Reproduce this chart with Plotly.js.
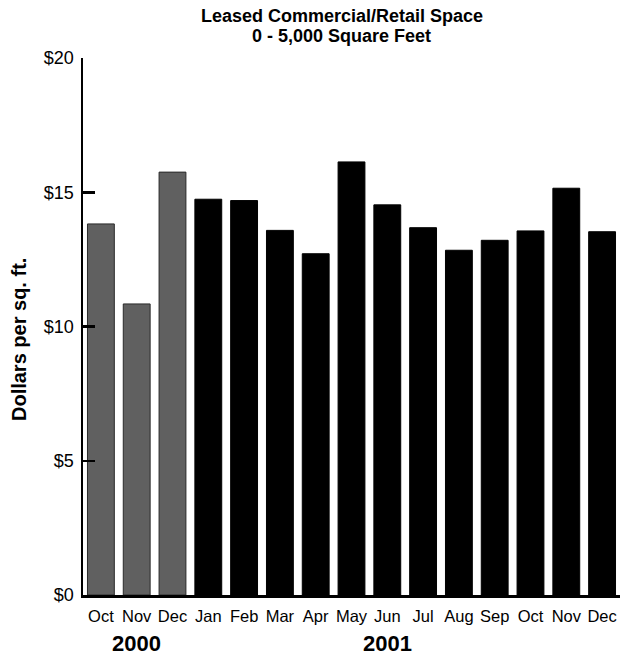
<!DOCTYPE html>
<html>
<head>
<meta charset="utf-8">
<script src="https://cdn.plot.ly/plotly-3.0.1.min.js"></script>
<style>
  html, body { margin: 0; padding: 0; background: #fff; }
  #chart { width: 620px; height: 658px; }
</style>
</head>
<body>
<div id="chart"></div>
<script>
// ---- data ----
const months = ["Oct", "Nov", "Dec", "Jan", "Feb", "Mar", "Apr", "May", "Jun", "Jul", "Aug", "Sep", "Oct", "Nov", "Dec"];
const years = [2000, 2000, 2000, 2001, 2001, 2001, 2001, 2001, 2001, 2001, 2001, 2001, 2001, 2001, 2001];
const pricePerSqFt = [13.82, 10.84, 15.75, 14.74, 14.69, 13.58, 12.71, 16.13, 14.53, 13.68, 12.84, 13.21, 13.56, 15.15, 13.53];
const yTickVals = [0, 5, 10, 15, 20];
const yTickText = ["$0", "$5", "$10", "$15", "$20"];
const yearLabels = ["2000", "2001"];
const yearLabelPos = [1, 8];
const titleLines = ["Leased Commercial/Retail Space", "0 - 5,000 Square Feet"];
const yTitle = "Dollars per sq. ft.";

const REG = "Liberation Sans, Arial, sans-serif";

const idx = months.map((m, i) => i);
const colors = years.map(y => y === 2000 ? "#606060" : "#000000");
const lineColors = years.map(y => y === 2000 ? "#2a2a2a" : "#000000");

const trace = {
  type: "bar",
  x: idx,
  y: pricePerSqFt,
  marker: { color: colors, line: { color: lineColors, width: 1 } },
  hoverinfo: "skip"
};

const titleAnn = titleLines.map((t, i) => ({
  text: "<b>" + t + "</b>",
  x: 0.482, xref: "paper",
  y: [1.078, 1.041][i], yref: "paper",
  xanchor: "center", yanchor: "middle",
  showarrow: false,
  font: { family: REG, size: 18, color: "#000" }
}));

const yearAnn = yearLabels.map((t, i) => ({
  text: "<b>" + t + "</b>",
  x: yearLabelPos[i], xref: "x",
  y: -0.09, yref: "paper",
  xanchor: "center", yanchor: "middle",
  showarrow: false,
  font: { family: REG, size: 22, color: "#000" }
}));

const yTitleAnn = [{
  text: "<b>" + yTitle + "</b>",
  x: -0.119, xref: "paper",
  y: 0.475, yref: "paper",
  xanchor: "center", yanchor: "middle",
  textangle: -90,
  showarrow: false,
  font: { family: REG, size: 20, color: "#000" }
}];

const layout = {
  width: 620,
  height: 658,
  margin: { l: 83, r: 0, t: 58, b: 63, pad: 0 },
  paper_bgcolor: "#fff",
  plot_bgcolor: "#fff",
  showlegend: false,
  bargap: 0.25,
  xaxis: {
    range: [-0.5, 14.5],
    tickmode: "array",
    tickvals: idx,
    ticktext: months,
    ticks: "",
    ticklabelstandoff: 5,
    showgrid: false,
    zeroline: false,
    showline: true,
    linecolor: "#000",
    linewidth: 2.5,
    tickfont: { family: REG, size: 16.5, color: "#000" },
    fixedrange: true
  },
  yaxis: {
    range: [0, 20],
    tickmode: "array",
    tickvals: yTickVals,
    ticktext: yTickText,
    ticks: "inside",
    ticklen: 12,
    tickwidth: 2.5,
    tickcolor: "#000",
    ticklabelstandoff: 3,
    showgrid: false,
    zeroline: false,
    showline: true,
    linecolor: "#000",
    linewidth: 2.5,
    tickfont: { family: REG, size: 18, color: "#000" },
    fixedrange: true
  },
  annotations: titleAnn.concat(yearAnn, yTitleAnn)
};

Plotly.newPlot("chart", [trace], layout, { displayModeBar: false, staticPlot: true });
</script>
</body>
</html>
